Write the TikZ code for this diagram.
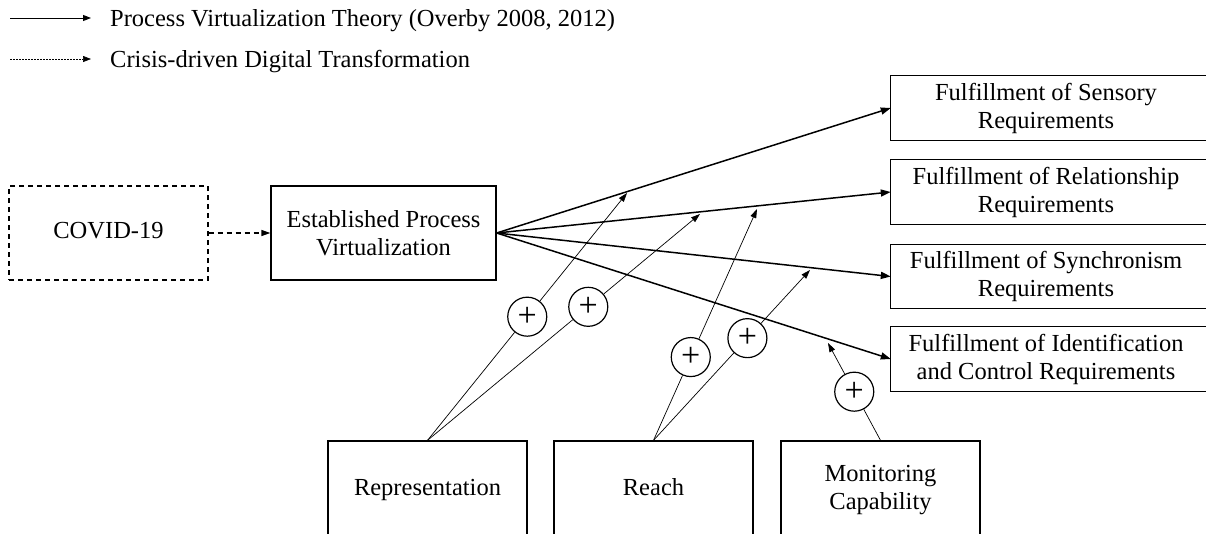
\documentclass[tikz,border=0pt]{standalone}
\usepackage{fontspec}
\setmainfont{Liberation Serif}
\usetikzlibrary{arrows.meta,calc}
\begin{document}
\begin{tikzpicture}[x=1pt,y=-1pt,
  every node/.style={font=\fontsize{24.5}{28}\selectfont, inner sep=0pt},
  box/.style={draw, line width=1.3pt, align=center},
  dashbox/.style={box, dash pattern=on 5pt off 4pt},
  reqbox/.style={align=center, minimum width=310, minimum height=64},
  plus/.style={draw, circle, line width=1.2pt, minimum size=39, fill=white,
    font=\fontsize{34}{34}\selectfont},
  fan/.style={line width=1.5pt, -{Triangle[length=10pt,width=7pt]}},
  infl/.style={line width=0.7pt},
  inflarrow/.style={infl, -{Triangle[length=9pt,width=6pt]}},
  legline/.style={line width=1pt, -{Triangle[length=8pt,width=6pt]}}
]
\clip (0,0) rectangle (1206,533);
\useasboundingbox (0,0) rectangle (1206,533);

% legend
\coordinate (la1) at (10,18);
\coordinate (lb1) at (91,18);
\draw[legline] (la1) -- (lb1);
\node[anchor=base west] (lt1) at (110,26) {Process Virtualization Theory (Overby 2008, 2012)};
\coordinate (la2) at (10,59);
\coordinate (lb2) at (91,59);
\draw[legline, line width=0.7pt, dash pattern=on 2pt off 1pt] (la2) -- (lb2);
\node[anchor=base west] (lt2) at (110,67) {Crisis-driven Digital Transformation};

% left boxes
\node[dashbox, minimum width=199, minimum height=94] (covid) at (108.5,233) {\strut COVID-19};
\node[box, minimum width=225, minimum height=94] (epv) at (383.5,233) {Established Process\\Virtualization};
\draw[line width=1.3pt, dash pattern=on 5pt off 4pt, -{Triangle[length=9pt,width=6pt]}] (covid) -- (epv);

% requirement boxes (cut off at the right edge)
\node[reqbox] (s1) at (1046,108) {Fulfillment of Sensory\\Requirements};
\node[reqbox] (s2) at (1046,192) {Fulfillment of Relationship\\Requirements};
\node[reqbox] (s3) at (1046,276.5) {Fulfillment of Synchronism\\Requirements};
\node[reqbox] (s4) at (1046,359) {Fulfillment of Identification\\and Control Requirements};
\foreach \n in {s1,s2,s3,s4}
  \draw[line width=1.3pt] (\n.north west) rectangle ($(\n.south east)+(14,0)$);

% capability boxes (cut off at the bottom edge)
\node[box, minimum width=199, minimum height=98] (rep) at (427.5,490) {\strut Representation};
\node[box, minimum width=199, minimum height=98] (reach) at (653.5,490) {\strut Reach};
\node[box, minimum width=199, minimum height=98] (mon) at (880.5,490) {Monitoring\\Capability};

% main paths
\foreach \n in {s1,s2,s3,s4}
  \draw[fan] (epv.east) -- (\n.west);

% moderating effects
\coordinate (t1) at (627,193);
\coordinate (t2) at (700,214);
\coordinate (t3) at (757,209);
\coordinate (t4) at (810,270);
\coordinate (t5) at (828,343);

\node[plus] (p1) at ($(rep.north)!0.5!(t1)$) {+};
\node[plus] (p2) at ($(rep.north)!0.59!(t2)$) {+};
\node[plus] (p3) at ($(reach.north)!0.36!(t3)$) {+};
\node[plus] (p4) at ($(reach.north)!0.6!(t4)$) {+};
\node[plus] (p5) at ($(mon.north)!0.5!(t5)$) {+};

\draw[infl] (rep.north) -- (p1);
\draw[infl] (rep.north) -- (p2);
\draw[infl] (reach.north) -- (p3);
\draw[infl] (reach.north) -- (p4);
\draw[infl] (mon.north) -- (p5);
\draw[inflarrow] (p1) -- (t1);
\draw[inflarrow] (p2) -- (t2);
\draw[inflarrow] (p3) -- (t3);
\draw[inflarrow] (p4) -- (t4);
\draw[inflarrow] (p5) -- (t5);
\end{tikzpicture}
\end{document}
